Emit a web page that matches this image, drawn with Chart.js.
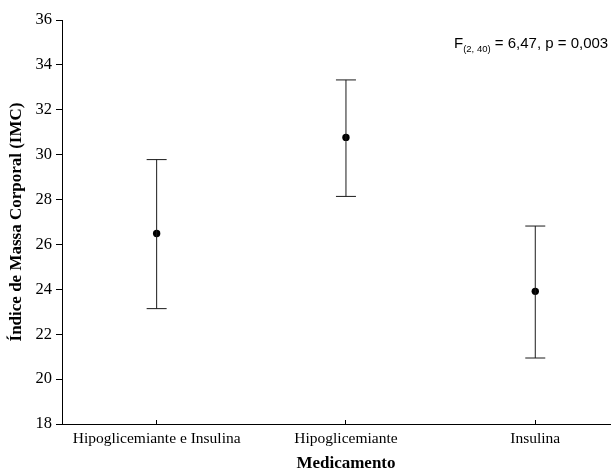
<!DOCTYPE html>
<html>
<head>
<meta charset="utf-8">
<script src="https://cdn.jsdelivr.net/npm/chart.js@4.4.1/dist/chart.umd.min.js"></script>
<style>
  html, body { margin: 0; padding: 0; background: #fff; }
  #wrap { width: 611px; height: 472px; position: relative; }
</style>
</head>
<body>
<div id="wrap"><canvas id="imcChart"></canvas></div>
<script>
// groups and values (mean with upper/lower limits)
const categories = ["Hipoglicemiante e Insulina", "Hipoglicemiante", "Insulina"];
const means = [26.49, 30.77, 23.91];
const lower = [23.14, 28.14, 20.94];
const upper = [29.78, 33.33, 26.82];
const yTicks = [18, 20, 22, 24, 26, 28, 30, 32, 34, 36];

const statText = { pre: "F", sub: "(2, 40)", post: " = 6,47, p = 0,003" };

const serif = "'Liberation Serif', 'Times New Roman', serif";
const sans = "'Liberation Sans', Arial, sans-serif";

/* Draws the x axis title under the middle group and the F-test note. */
const textPlugin = {
    id: "textPlugin",
    afterDraw(chart) {
        const ctx = chart.ctx;
        const xs = chart.scales.x;
        ctx.save();
        ctx.fillStyle = "#000";
        ctx.textAlign = "center";
        ctx.textBaseline = "middle";
        ctx.font = "bold 17px " + serif;
        ctx.fillText("Medicamento", xs.getPixelForValue(1), 464);

        // F statistic with subscript
        ctx.textAlign = "left";
        ctx.textBaseline = "alphabetic";
        let x = 454;
        ctx.font = "15px " + sans;
        ctx.fillText(statText.pre, x, 48);
        x += ctx.measureText(statText.pre).width;
        ctx.font = "9.5px " + sans;
        ctx.fillText(statText.sub, x, 52);
        x += ctx.measureText(statText.sub).width;
        ctx.font = "15px " + sans;
        ctx.fillText(statText.post, x, 48);
        ctx.restore();
    },
};

function buildDatasets() {
    const whiskers = categories.map((name, i) => ({
        type: "line",
        label: name,
        data: [
            { x: i, y: lower[i] },
            { x: i, y: upper[i] },
        ],
        borderColor: "#1a1a1a",
        borderWidth: 1,
        pointStyle: "line",
        pointRadius: 10,
        pointBorderWidth: 1,
        pointBorderColor: "#1a1a1a",
        pointHoverRadius: 10,
    }));

    const meanPoints = {
        type: "scatter",
        label: "Média",
        data: categories.map((name, i) => ({ x: i, y: means[i] })),
        backgroundColor: "#000",
        borderColor: "#000",
        pointRadius: 3.7,
        pointBorderWidth: 0,
    };

    return [...whiskers, meanPoints];
}

document.addEventListener("DOMContentLoaded", function () {
    const ctx = document.getElementById("imcChart");
    Chart.defaults.color = "#000";

    new Chart(ctx, {
        type: "scatter",
        data: { datasets: buildDatasets() },
        plugins: [textPlugin],
        options: {
            responsive: true,
            maintainAspectRatio: false,
            animation: false,
            layout: { autoPadding: false, padding: { top: 20, right: 0, bottom: 0, left: 0 } },
            plugins: {
                legend: { display: false },
                tooltip: { enabled: false },
            },
            scales: {
                x: {
                    type: "linear",
                    min: -0.5,
                    max: 2.4,
                    grid: { drawOnChartArea: false, drawTicks: true, tickLength: -4, color: "#000" },
                    border: { color: "#000", width: 1 },
                    afterBuildTicks: (scale) => {
                        scale.ticks = categories.map((c, i) => ({ value: i }));
                    },
                    afterFit: (scale) => {
                        scale.height = 48;
                        scale.paddingLeft = 0;
                        scale.paddingRight = 0;
                    },
                    ticks: {
                        padding: 10,
                        maxRotation: 0,
                        autoSkip: false,
                        font: { family: serif, size: 15.5 },
                        callback: (value) => categories[value],
                    },
                },
                y: {
                    min: 18,
                    max: 36,
                    grid: { drawOnChartArea: false, drawTicks: true, tickLength: 6, color: "#000" },
                    border: { color: "#000", width: 1 },
                    afterBuildTicks: (scale) => {
                        scale.ticks = yTicks.map((v) => ({ value: v }));
                    },
                    afterFit: (scale) => {
                        scale.width = 62;
                    },
                    ticks: {
                        padding: 4,
                        font: { family: serif, size: 16.5 },
                    },
                    title: {
                        display: true,
                        text: "Índice de Massa Corporal (IMC)",
                        font: { family: serif, size: 17, weight: "bold", lineHeight: 1 },
                        padding: { top: 8, bottom: 0 },
                    },
                },
            },
        },
    });
});
</script>
</body>
</html>
